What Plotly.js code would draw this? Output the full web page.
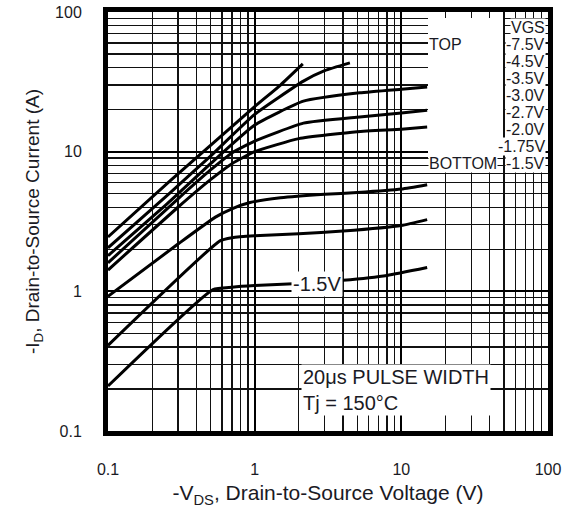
<!DOCTYPE html>
<html>
<head>
<meta charset="utf-8">
<script src="https://cdn.plot.ly/plotly-3.0.1.min.js"></script>
<style>html,body{margin:0;padding:0;background:#fff;}#chart{width:577px;height:514px;}</style>
</head>
<body>
<div id="chart"></div>
<script>
// Data (V in volts, I in amperes)
const vgs75_V = [0.1, 0.266, 0.5, 1, 1.5, 2.13];
const vgs75_I = [2.45, 6.2, 11.1, 21, 30, 42.5];
const vgs45_V = [0.1, 0.266, 0.5, 1, 2.15, 3, 4.46];
const vgs45_I = [2.05, 5.1, 9.3, 18.5, 32, 38, 43.2];
const vgs35_V = [0.1, 0.266, 0.5, 1, 2.15, 5.2, 10, 15];
const vgs35_I = [1.8, 4.44, 8.2, 15.5, 23, 26.4, 28, 29];
const vgs30_V = [0.1, 0.3, 0.5, 0.7, 1, 2.15, 5.2, 10, 15];
const vgs30_I = [1.6, 4.6, 7.4, 9.8, 11.9, 16.0, 17.7, 18.9, 19.8];
const vgs27_V = [0.1, 0.3, 0.5, 0.7, 1, 2, 5, 10, 15];
const vgs27_I = [1.42, 4.0, 6.3, 8.2, 10, 12.4, 13.9, 14.5, 15.0];
const vgs20_V = [0.1, 0.3, 0.54, 0.7, 0.93, 1.5, 3, 5, 10, 15];
const vgs20_I = [0.92, 2.18, 3.4, 3.9, 4.32, 4.67, 4.95, 5.1, 5.4, 5.8];
const vgs175_V = [0.1, 0.58, 0.7, 1, 2, 4, 10, 15];
const vgs175_I = [0.41, 2.3, 2.42, 2.5, 2.58, 2.7, 2.96, 3.26];
const vgs15_V = [0.1, 0.52, 0.7, 1, 2, 4, 8, 15];
const vgs15_I = [0.21, 1.03, 1.07, 1.1, 1.14, 1.2, 1.3, 1.48];

const majorTicks = [0.1, 1, 10, 100];
const majorLabels = ['0.1', '1', '10', '100'];
const minorTicks = [0.2,0.3,0.4,0.5,0.6,0.7,0.8,0.9, 2,3,4,5,6,7,8,9, 20,30,40,50,60,70,80,90];

const legendHeader = 'VGS';
const legendLabels = ['-7.5V','-4.5V','-3.5V','-3.0V','-2.7V','-2.0V','-1.75V','-1.5V'];

const series = [
  [vgs75_V, vgs75_I], [vgs45_V, vgs45_I], [vgs35_V, vgs35_I], [vgs30_V, vgs30_I],
  [vgs27_V, vgs27_I], [vgs20_V, vgs20_I], [vgs175_V, vgs175_I], [vgs15_V, vgs15_I]
];

const traces = series.map((s, i) => ({
  x: s[0], y: s[1], type: 'scatter', mode: 'lines',
  name: legendLabels[i],
  line: {color: '#000', width: 3, shape: 'spline', smoothing: 0.45},
  hoverinfo: 'skip'
}));

const font = {family: 'Liberation Sans, Arial, sans-serif', color: '#1a1a24'};

function axis(extra) {
  return Object.assign({
    type: 'log', range: [-1, 2],
    tickmode: 'array', tickvals: majorTicks, ticktext: majorLabels,
    showgrid: true, gridcolor: '#000', gridwidth: 2.2,
    minor: {tickmode: 'array', tickvals: minorTicks, showgrid: true, gridcolor: '#111', gridwidth: 1.3, ticks: ''},
    showline: true, linecolor: '#000', linewidth: 5, mirror: true,
    ticks: '', zeroline: false,
    tickfont: Object.assign({size: 16}, font)
  }, extra);
}

const annotations = [];
const colX = 0.996;
const rowTop = 0.962, rowStep = 17 / 419;
const legFont = Object.assign({size: 16}, font);
annotations.push({xref: 'paper', yref: 'paper', x: colX, y: rowTop, xanchor: 'right', yanchor: 'middle',
  text: legendHeader, showarrow: false, bgcolor: '#fff', borderpad: 0, font: legFont});
legendLabels.forEach((t, i) => {
  annotations.push({xref: 'paper', yref: 'paper', x: colX, y: rowTop - (i + 1) * rowStep, xanchor: 'right', yanchor: 'middle',
    text: t, showarrow: false, bgcolor: '#fff', borderpad: 0, font: legFont});
});
annotations.push({xref: 'paper', yref: 'paper', x: 0.727, y: rowTop - rowStep, xanchor: 'left', yanchor: 'middle',
  text: 'TOP', showarrow: false, bgcolor: '#fff', borderpad: 0, font: legFont});
annotations.push({xref: 'paper', yref: 'paper', x: 0.727, y: rowTop - 8 * rowStep, xanchor: 'left', yanchor: 'middle',
  text: 'BOTTOM', showarrow: false, bgcolor: '#fff', borderpad: 0, font: legFont});
annotations.push({xref: 'paper', yref: 'paper', x: (317 - 108) / 440, y: (431 - 284) / 419, xanchor: 'center', yanchor: 'middle',
  text: '-1.5V', showarrow: false, bgcolor: '#fff', borderpad: 1, font: Object.assign({size: 20}, font)});
annotations.push({xref: 'paper', yref: 'paper', x: (301 - 108) / 440, y: (431 - 390) / 419, xanchor: 'left', yanchor: 'middle',
  text: '20μs PULSE WIDTH<br>Tj = 150°C', align: 'left', showarrow: false, bgcolor: '#fff', borderpad: 1,
  font: Object.assign({size: 20}, font)});

const layout = {
  width: 577, height: 514,
  margin: {l: 108, r: 29, t: 12, b: 83},
  paper_bgcolor: '#fff', plot_bgcolor: '#fff',
  showlegend: false,
  font: font,
  xaxis: axis({
    ticklabelstandoff: 20,
    title: {text: '-V<sub>DS</sub>, Drain-to-Source Voltage (V)', font: Object.assign({size: 21}, font), standoff: 10}
  }),
  yaxis: axis({
    ticklabelstandoff: 18,
    title: {text: '-I<sub>D</sub>, Drain-to-Source Current (A)', font: Object.assign({size: 19}, font), standoff: 12}
  }),
  shapes: [{
    type: 'rect', xref: 'paper', yref: 'paper', layer: 'above',
    x0: (428 - 108) / 440, x1: (503 - 108) / 440, y0: (431 - 158) / 419, y1: (431 - 18) / 419,
    fillcolor: '#fff', line: {width: 0}
  }],
  annotations: annotations
};

Plotly.newPlot('chart', traces, layout, {staticPlot: true, displayModeBar: false});
</script>
</body>
</html>
